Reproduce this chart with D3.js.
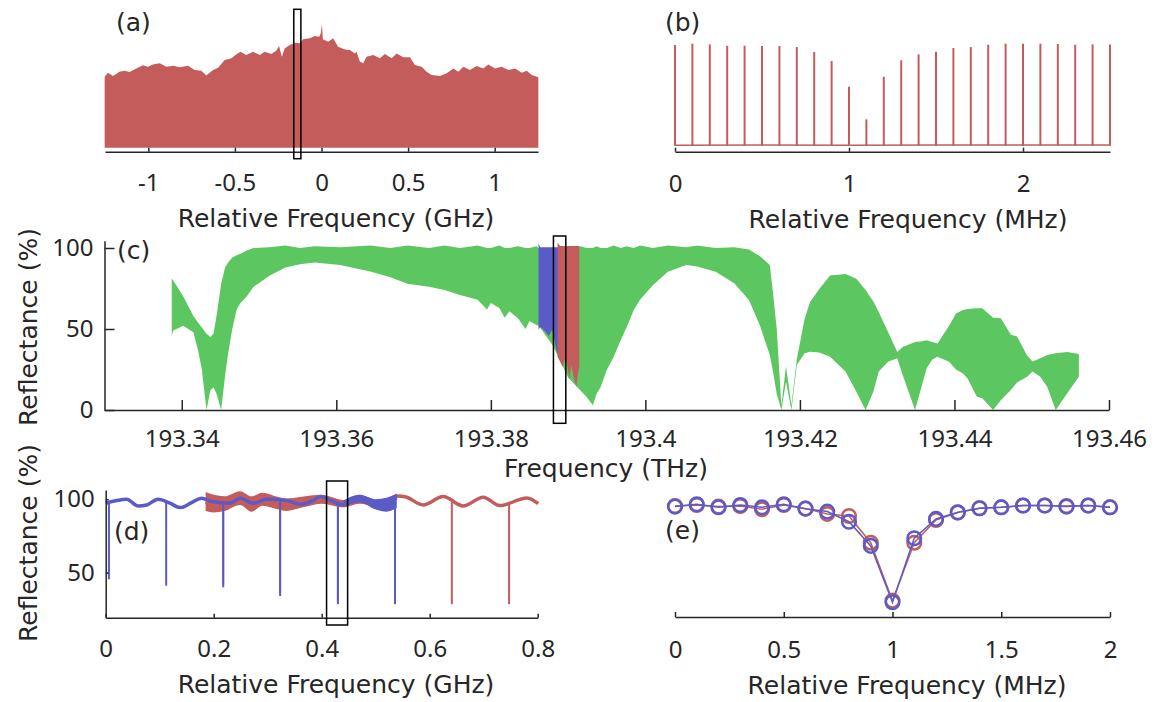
<!DOCTYPE html>
<html>
<head>
<meta charset="utf-8">
<script src="https://cdn.jsdelivr.net/npm/d3@7"></script>
<style>
  body { margin: 0; background: #fff; }
  text { fill: #262626; }
  .tick text { font-family: "Noto Sans", "Open Sans", sans-serif; }
  .lbl { font-family: "DejaVu Sans", "Noto Sans", sans-serif; }
</style>
</head>
<body>
<svg id="fig" width="1156" height="702"></svg>
<script>
// ---------- (a) comb envelope, relative frequency in GHz, arbitrary power ----------
var aFreq = [-1.252,-1.233,-1.204,-1.166,-1.137,-1.108,-1.069,-1.031,-1.002,-0.973,-0.934,-0.896,-0.857,-0.819,-0.771,-0.732,-0.694,-0.665,-0.626,-0.597,
  -0.559,-0.520,-0.491,-0.468,-0.434,-0.395,-0.356,-0.328,-0.289,-0.260,-0.245,-0.229,-0.212,-0.183,-0.154,-0.125,-0.106,-0.067,-0.039,-0.013,
  -0.004,0.002,0.008,0.039,0.067,0.096,0.135,0.164,0.193,0.202,0.222,0.241,0.260,0.299,0.337,0.366,0.405,0.434,0.472,0.511,
  0.539,0.578,0.607,0.636,0.684,0.723,0.761,0.790,0.819,0.857,0.896,0.934,0.963,1.002,1.040,1.079,1.118,1.156,1.185,1.214,1.252];
var aLevel = [0.516,0.545,0.521,0.552,0.559,0.550,0.576,0.598,0.588,0.605,0.613,0.588,0.596,0.584,0.596,0.564,0.559,0.525,0.564,0.581,
  0.637,0.649,0.678,0.697,0.673,0.697,0.673,0.697,0.680,0.705,0.738,0.661,0.722,0.746,0.763,0.758,0.787,0.794,0.811,0.806,
  0.831,0.898,0.787,0.770,0.794,0.734,0.714,0.709,0.685,0.697,0.625,0.613,0.661,0.673,0.649,0.680,0.649,0.685,0.656,0.656,
  0.600,0.588,0.552,0.528,0.521,0.540,0.576,0.552,0.588,0.564,0.593,0.576,0.605,0.576,0.588,0.564,0.576,0.545,0.559,0.528,0.511];
var aTicks = [-1, -0.5, 0, 0.5, 1];
var aBox = [-0.160, -0.119];

// ---------- (b) single comb, relative frequency in MHz ----------
var bFreq = [0,0.1,0.2,0.3,0.4,0.5,0.6,0.7,0.8,0.9,1.0,1.1,1.2,1.3,1.4,1.5,1.6,1.7,1.8,1.9,2.0,2.1,2.2,2.3,2.4,2.5];
var bHeight = [0.987,1.0,0.993,0.980,0.980,0.977,0.977,0.967,0.918,0.830,0.578,0.258,0.676,0.837,0.895,0.922,0.958,0.967,0.990,1.0,1.0,1.0,0.997,0.990,0.993,0.993];
var bFloorFreq = [0, 0.5, 1.0, 1.5, 2.0, 2.5];
var bFloorLevel = [0.005, 0.008, 0.004, 0.007, 0.006, 0.008];
var bTicks = [0, 1, 2];

// ---------- (c) reflectance spectrum, THz ----------
var cGreenFreq = [193.3387,193.3389,193.3402,193.3415,193.3421,193.3426,193.3432,193.3437,193.3441,193.3445,
  193.3451,193.3456,193.3460,193.3465,193.3471,193.3476,193.3484,193.3493,193.3514,193.3534,
  193.3553,193.3572,193.3605,193.3644,193.3670,193.3692,193.3720,193.3740,193.3760,193.3783,
  193.3795,193.3800,193.3811,193.3818,193.3824,193.3835,193.3845,193.3850,193.3859,193.3862,
  193.3880,193.3900,193.3916,193.3924,193.3932,193.3937,193.3942,193.3950,193.3959,193.3968,
  193.3976,193.3985,193.3993,193.4010,193.4029,193.4053,193.4067,193.4091,193.4115,193.4134,
  193.4148,193.4161,193.4165,193.4170,193.4176,193.4182,193.4189,193.4196,193.4206,193.4213,
  193.4225,193.4239,193.4259,193.4273,193.4285,193.4295,193.4302,193.4314,193.4326,193.4333,
  193.4349,193.4358,193.4364,193.4371,193.4378,193.4393,193.4402,193.4411,193.4417,193.4429,
  193.4436,193.4450,193.4460,193.4473,193.4481,193.4494,193.4501,193.4505,193.4511,193.4520,
  193.4531,193.4546,193.4555,193.4561];
var cGreenLow = [46,49,52,48,37,25,0,12,14,10,
  0,21,35,49,62,66,70,76,83,88,
  90,91,89.5,85.5,82,78,76,74,71,68,
  62,66,63,57,61,56.6,50,55,52.5,52,
  40,20,12,8,3,10,14,24.7,32.9,43,
  51.4,61.7,68,77.2,85.4,89.5,88.5,85.4,78.2,67.9,
  52.5,34,24,10,0,17.5,0,27.8,35,36,
  35.5,32.9,23.7,11.3,0,11.3,23.7,29.8,32,21.6,
  0,15.4,25.7,31,32.9,29.8,25,22.6,19.5,8.2,
  7.2,0,6,12.3,17,20.6,23.7,22.5,20.6,14.4,
  0,10.3,16.5,20.6];
var cGreenHigh = [81,80,70,58,54,51,47,45,47,58,
  78,88,91,94,95.5,96.5,98.5,100,100.5,101.5,
  100,101,100.5,101.5,100,101.5,100,101.5,100,101.5,
  100,100,101.5,100,100,101,100,100,101,100,
  100,100,101,100,100,101,100,100,101.5,100,
  101,100,101.5,100,101.5,100.5,101.5,100,100.5,99,
  95,89.5,73,50,3,27,3,31.5,56,66.5,
  74.7,83,84,81,74,67,60.5,48.1,35.8,38.9,
  42,42.5,43,42,41,52,59.5,61.7,62.3,62.8,
  62.8,57,56.6,46.5,45.3,33.7,30,30.7,31.9,34,
  35,35.8,35,34.6];
var cBlueFreq = [193.38617,193.38639,193.38704,193.38747,193.38791,193.38812,193.38834,193.38856,193.38889];
var cBlueLow  = [49.4,51.4,48.4,45.7,49.4,46.7,40.1,35.4,35];
var cBlueHigh = [103,100.5,100.5,100.5,100.5,100.5,100.5,100.5,100.5];
var cRedFreq = [193.38863,193.38898,193.38928,193.38963,193.38985,193.39015,193.39041,193.39071,193.39106,193.39128,193.39144];
var cRedLow  = [32.9,29.8,26.7,31.9,28.8,19.5,27.8,20.6,14.4,22.6,26.7];
var cRedHigh = [103.3,101.2,101.2,101.2,101.2,101.2,101.2,101.2,101.2,101.2,101.2];
var cXTicks = [193.34, 193.36, 193.38, 193.4, 193.42, 193.44, 193.46];
var cYTicks = [0, 50, 100];
var cBox = [193.3881, 193.3897];

// ---------- (d) two overlapping scans, GHz ----------
var dBlueFreq  = [0.000,0.020,0.039,0.060,0.076,0.097,0.119,0.138,0.159,0.178,0.196,0.230,0.249,0.273,0.298,0.335,0.360,0.384,0.397,0.418,0.440,0.471,0.502,0.526,0.539];
var dBlueLevel = [97.3,99.1,100,95.4,96.1,100,97.3,94.3,97.7,100.7,98.4,97.3,100.7,97.3,100,99.1,96.5,99.1,101.8,99,96.1,101.8,97.3,99.1,101];
var dBlueBandFreq = [0.440,0.470,0.500,0.520,0.539];
var dBlueBandLow  = [95,98,93,91.5,94];
var dBlueBandHigh = [99,103,100,101,104];
var dBlueDipFreq   = [0.006,0.112,0.2176,0.323,0.430,0.5357];
var dBlueDipTop    = [98,99,98,99,97,100];
var dBlueDipBottom = [45.5,41.1,40,34.1,28.5,28.5];

var dRedFreq  = [0.185,0.196,0.220,0.249,0.273,0.298,0.320,0.335,0.360,0.397,0.420,0.440,0.471,0.502,0.542,0.556,0.588,0.625,0.662,0.699,0.730,0.780,0.801];
var dRedLevel = [98,97,97,101,97,100.5,97,96,98,101.5,99,97,100.5,96.5,102.2,101.5,96.1,101.8,95.4,101.4,95.7,100.9,97];
var dRedBandFreq = [0.185,0.200,0.220,0.249,0.270,0.290,0.320,0.335,0.360,0.400,0.440,0.470,0.500];
var dRedBandLow  = [92,91,92,96,91.5,95.5,93,92,94,97,94.5,97,94.5];
var dRedBandHigh = [105,103,102,105.5,102,104.5,101.5,100.5,101.5,103,99.5,102.5,99];
var dRedDipFreq   = [0.2176,0.323,0.430,0.5357,0.641,0.747];
var dRedDipTop    = [97,97,97,101,98,96.5];
var dRedDipBottom = [42,36,30,30,28.5,28.5];
var dXTicks = [0, 0.2, 0.4, 0.6, 0.8];
var dYTicks = [50, 100];
var dBox = [0.409, 0.448];

// ---------- (e) sampled dip, MHz ----------
var eFreq = [0,0.1,0.2,0.3,0.4,0.5,0.6,0.7,0.8,0.9,1.0,1.1,1.2,1.3,1.4,1.5,1.6,1.7,1.8,1.9,2.0];
var eRed  = [95.4,96.1,95.0,95.4,93.2,96.1,93.6,90.0,88.6,70.4,30.9,70.4,85.9,90.9,93.9,94.5,95.7,95.7,95.4,95.7,94.5];
var eBlue = [95.0,96.6,94.5,96.1,94.5,96.6,93.6,91.6,84.7,68.2,29.8,73.4,86.6,91.1,93.9,94.5,95.7,95.7,95.0,95.7,94.5];
var eTicks = [0, 0.5, 1, 1.5, 2];

var RED = "#c45c5c", GREEN = "#5cc660", BLUE = "#5b5bc8", INK = "#262626";
var FS = 24,   // tick labels
    LS = 25;   // titles and panel letters

var svg = d3.select("#fig");
svg.append("rect").attr("width", 1156).attr("height", 702).attr("fill", "#fff");

// style an axis group the same way everywhere
function styleAxis(g) {
  g.attr("font-family", null).attr("font-size", null);
  g.select(".domain").attr("stroke", INK).attr("stroke-width", 1.5);
  g.selectAll(".tick line").attr("stroke", INK).attr("stroke-width", 1.5);
  g.selectAll(".tick text")
    .attr("fill", INK)
    .style("font-size", FS + "px");
}

function label(x, y, txt, anchor, rot) {
  return svg.append("text")
    .attr("class", "lbl")
    .attr("transform", "translate(" + x + "," + y + ")" + (rot ? " rotate(-90)" : ""))
    .attr("text-anchor", anchor || "start")
    .style("font-size", LS + "px")
    .text(txt);
}

function box(xs, x0, x1, yTop, yBot) {
  svg.append("rect")
    .attr("x", xs(x0)).attr("y", yTop)
    .attr("width", xs(x1) - xs(x0)).attr("height", yBot - yTop)
    .attr("fill", "none").attr("stroke", "#000").attr("stroke-width", 1.5);
}

/* ---------------- panel (a) ---------------- */
var ax = d3.scaleLinear().domain([-1.25, 1.25]).range([105, 538]);
var ay = d3.scaleLinear().domain([0, 1]).range([147.7, 10]);

svg.append("path")
  .datum(d3.zip(aFreq, aLevel))
  .attr("fill", RED)
  .attr("d", d3.area().x(d => ax(d[0])).y0(ay(0)).y1(d => ay(d[1])));

svg.append("g")
  .attr("transform", "translate(0,151.7)")
  .call(d3.axisBottom(ax).tickValues(aTicks).tickSize(-4).tickSizeOuter(0).tickPadding(22).tickFormat(String))
  .call(styleAxis);

box(ax, aBox[0], aBox[1], 9.3, 158.7);
label(116, 31, "(a)");
label(336, 227, "Relative Frequency (GHz)", "middle");

/* ---------------- panel (b) ---------------- */
var bx = d3.scaleLinear().domain([0, 2.5]).range([675, 1110]);
var by = d3.scaleLinear().domain([0, 1]).range([145.7, 43.7]);

svg.append("path")
  .datum(d3.zip(bFloorFreq, bFloorLevel))
  .attr("fill", "none").attr("stroke", RED).attr("stroke-width", 1.5)
  .attr("d", d3.line().x(d => bx(d[0])).y(d => by(d[1])));

svg.append("g").selectAll("line")
  .data(d3.zip(bFreq, bHeight))
  .enter().append("line")
    .attr("x1", d => bx(d[0])).attr("x2", d => bx(d[0]))
    .attr("y1", by(0)).attr("y2", d => by(d[1]))
    .attr("stroke", RED).attr("stroke-width", 2);

svg.append("g")
  .attr("transform", "translate(0,151.7)")
  .call(d3.axisBottom(bx).tickValues(bTicks).tickSize(-4).tickSizeOuter(0).tickPadding(23).tickFormat(String))
  .call(styleAxis);

label(665, 31, "(b)");
label(908, 228, "Relative Frequency (MHz)", "middle");

/* ---------------- panel (c) ---------------- */
var cx = d3.scaleLinear().domain([193.33, 193.46]).range([104.5, 1109]);
var cy = d3.scaleLinear().domain([0, 104.5]).range([410, 240.7]);
var cArea = d3.area().x(d => cx(d[0])).y0(d => cy(d[1])).y1(d => cy(d[2]));

svg.append("path").datum(d3.zip(cGreenFreq, cGreenLow, cGreenHigh)).attr("fill", GREEN).attr("d", cArea);
svg.append("path").datum(d3.zip(cBlueFreq, cBlueLow, cBlueHigh)).attr("fill", BLUE).attr("d", cArea);
svg.append("path").datum(d3.zip(cRedFreq, cRedLow, cRedHigh)).attr("fill", RED).attr("d", cArea);

svg.append("g")
  .attr("transform", "translate(0,410)")
  .call(d3.axisBottom(cx).tickValues(cXTicks).tickSize(-10).tickSizeOuter(0).tickPadding(20).tickFormat(String))
  .call(styleAxis);
svg.append("g")
  .attr("transform", "translate(104.5,0)")
  .call(d3.axisLeft(cy).tickValues(cYTicks).tickSize(-10).tickSizeOuter(0).tickPadding(11).tickFormat(String))
  .call(styleAxis);

box(cx, cBox[0], cBox[1], 236, 423.3);
label(117, 259, "(c)");
label(606, 477, "Frequency (THz)", "middle");
label(37, 327, "Reflectance (%)", "middle", true);

/* ---------------- panel (d) ---------------- */
var dx = d3.scaleLinear().domain([0, 0.8]).range([105.7, 537.7]);
var dy = d3.scaleLinear().domain([19.3, 106.3]).range([617.7, 490]);
var dLine = d3.line().curve(d3.curveMonotoneX).x(d => dx(d[0])).y(d => dy(d[1]));
var dBand = d3.area().curve(d3.curveMonotoneX).x(d => dx(d[0])).y0(d => dy(d[1])).y1(d => dy(d[2]));

function dips(freq, top, bottom, color) {
  svg.append("g").selectAll("line")
    .data(d3.zip(freq, top, bottom))
    .enter().append("line")
      .attr("x1", d => dx(d[0])).attr("x2", d => dx(d[0]))
      .attr("y1", d => dy(d[1])).attr("y2", d => dy(d[2]))
      .attr("stroke", color).attr("stroke-width", 2);
}

svg.append("path").datum(d3.zip(dRedBandFreq, dRedBandLow, dRedBandHigh)).attr("fill", RED).attr("d", dBand);
svg.append("path").datum(d3.zip(dRedFreq, dRedLevel))
  .attr("fill", "none").attr("stroke", RED).attr("stroke-width", 3.5).attr("d", dLine);
dips(dRedDipFreq, dRedDipTop, dRedDipBottom, RED);

svg.append("path").datum(d3.zip(dBlueBandFreq, dBlueBandLow, dBlueBandHigh)).attr("fill", BLUE).attr("d", dBand);
svg.append("path").datum(d3.zip(dBlueFreq, dBlueLevel))
  .attr("fill", "none").attr("stroke", BLUE).attr("stroke-width", 3.5).attr("d", dLine);
dips(dBlueDipFreq, dBlueDipTop, dBlueDipBottom, BLUE);

svg.append("g")
  .attr("transform", "translate(0,617.7)")
  .call(d3.axisBottom(dx).tickValues(dXTicks).tickSize(-4).tickSizeOuter(0).tickPadding(22).tickFormat(String))
  .call(styleAxis);
svg.append("g")
  .attr("transform", "translate(105.7,0)")
  .call(d3.axisLeft(dy).tickValues(dYTicks).tickSize(-3).tickSizeOuter(0).tickPadding(11).tickFormat(String))
  .call(styleAxis);

box(dx, dBox[0], dBox[1], 481, 625);
label(114, 540, "(d)");
label(336, 693, "Relative Frequency (GHz)", "middle");
label(37, 543, "Reflectance (%)", "middle", true);

/* ---------------- panel (e) ---------------- */
var ex = d3.scaleLinear().domain([0, 2]).range([675, 1110]);
var eLine = d3.line().x(d => ex(d[0])).y(d => dy(d[1]));

[[eRed, RED], [eBlue, BLUE]].forEach(function (s) {
  var pts = d3.zip(eFreq, s[0]);
  svg.append("path").datum(pts)
    .attr("fill", "none").attr("stroke", s[1]).attr("stroke-width", 1.5).attr("d", eLine);
  svg.append("g").selectAll("circle")
    .data(pts)
    .enter().append("circle")
      .attr("cx", d => ex(d[0])).attr("cy", d => dy(d[1]))
      .attr("r", 6.8)
      .attr("fill", "none").attr("stroke", s[1]).attr("stroke-width", 2.5);
});

svg.append("g")
  .attr("transform", "translate(0,617)")
  .call(d3.axisBottom(ex).tickValues(eTicks).tickSize(-5).tickSizeOuter(0).tickPadding(24).tickFormat(String))
  .call(styleAxis);

label(665, 539, "(e)");
label(907, 694, "Relative Frequency (MHz)", "middle");
</script>
</body>
</html>
